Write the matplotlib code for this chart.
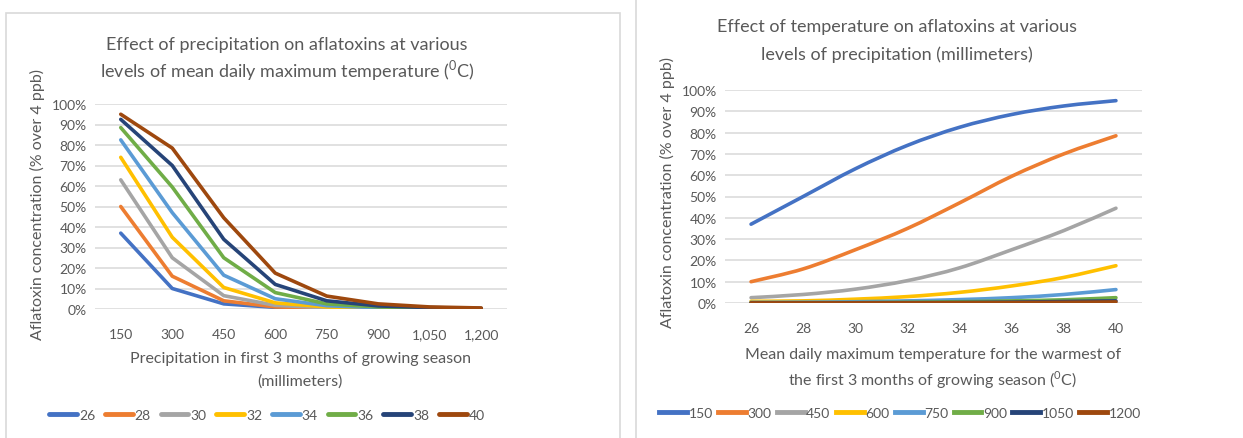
import matplotlib
matplotlib.use("Agg")
import matplotlib.pyplot as plt
from matplotlib.path import Path
from matplotlib.patches import PathPatch, Rectangle
from matplotlib.lines import Line2D
import numpy as np

plt.rcParams['font.family'] = ['Lato', 'DejaVu Sans']
plt.rcParams['mathtext.fontset'] = 'custom'
plt.rcParams['mathtext.rm'] = 'Lato'

# data (% over 4 ppb), one row per temperature, one column per precipitation
temps = [26, 28, 30, 32, 34, 36, 38, 40]
precips = [150, 300, 450, 600, 750, 900, 1050, 1200]
precip_labels = ["150", "300", "450", "600", "750", "900", "1,050", "1,200"]
t26 = [37, 10, 2.5, 0.8, 0.3, 0.1, 0.05, 0.02]
t28 = [50, 16, 4, 1.0, 0.4, 0.15, 0.05, 0.03]
t30 = [63, 25, 6.5, 1.8, 0.6, 0.2, 0.1, 0.05]
t32 = [74, 35, 10.5, 3.0, 1.0, 0.35, 0.15, 0.07]
t34 = [82.5, 47, 16.5, 5.0, 1.6, 0.6, 0.25, 0.1]
t36 = [88.5, 59.5, 25, 8.0, 2.5, 1.0, 0.4, 0.2]
t38 = [92.5, 70, 34, 12, 4.0, 1.5, 0.7, 0.3]
t40 = [95, 78.5, 44.5, 17.5, 6.3, 2.5, 1.0, 0.5]

colors = ['#4472C4', '#ED7D31', '#A5A5A5', '#FFC000',
          '#5B9BD5', '#70AD47', '#264478', '#9E480E']
textcol = '#595959'
gridcol = '#D9D9D9'
W, H = 1243, 439


def px_axes(fig, x0, y0, x1, y1):
    # pixel box (top-left origin) -> axes
    return fig.add_axes([x0 / W, (H - y1) / H, (x1 - x0) / W, (y1 - y0) / H])


def px_lines(fig, x, ys, lines, size):
    # one text per line so the spacing matches the excel layout
    for y, s in zip(ys, lines):
        fig.text(x / W, 1 - y / H, s, ha='center', va='center',
                 fontsize=size, color=textcol)


def smooth_path(x, y):
    # excel style smoothed line: catmull-rom as bezier segments
    pts = np.column_stack([x, y]).astype(float)
    verts = [pts[0]]
    codes = [Path.MOVETO]
    n = len(pts)
    for i in range(n - 1):
        p0 = pts[i - 1] if i > 0 else pts[i]
        p1 = pts[i]
        p2 = pts[i + 1]
        p3 = pts[i + 2] if i + 2 < n else pts[i + 1]
        c1 = p1 + (p2 - p0) / 6.0
        c2 = p2 - (p3 - p1) / 6.0
        verts += [c1, c2, p2]
        codes += [Path.CURVE4] * 3
    return Path(verts, codes)


def style_axes(ax, labels):
    ax.set_xlim(-0.5, 7.5)
    ax.set_ylim(0, 1.0)
    ax.set_yticks(np.arange(0, 1.01, 0.1))
    ax.set_yticklabels(["%d%%" % round(v * 100) for v in np.arange(0, 1.01, 0.1)])
    ax.set_xticks(range(8))
    ax.set_xticklabels(labels)
    for s in ax.spines.values():
        s.set_visible(False)
    ax.tick_params(length=0, colors=textcol, labelsize=10)
    ax.tick_params(axis='x', pad=14)
    ax.tick_params(axis='y', pad=6)
    ax.grid(axis='y', color=gridcol, linewidth=1.1)
    ax.set_axisbelow(True)


def main():
    fig = plt.figure(figsize=(W / 100, H / 100), dpi=100)
    rows = [t26, t28, t30, t32, t34, t36, t38, t40]
    data = np.array(rows) / 100.0

    # panel borders
    fig.patches.append(Rectangle((6 / W, -0.1), 614 / W, (H - 13.5) / H + 0.1,
                                 transform=fig.transFigure, fill=False,
                                 edgecolor=gridcol, linewidth=1.2))
    fig.add_artist(Line2D([635.5 / W, 635.5 / W], [0, 1], transform=fig.transFigure,
                          color=gridcol, linewidth=1.2))

    # left chart: precipitation on x, one line per temperature
    ax1 = px_axes(fig, 95, 105, 507, 310)
    style_axes(ax1, precip_labels)
    for i in range(len(temps)):
        ax1.plot(range(8), data[i], color=colors[i], linewidth=2.6,
                 solid_capstyle='round', label=str(temps[i]))
    px_lines(fig, 287, [45, 71],
             ["Effect of precipitation on aflatoxins at various",
              "levels of mean daily maximum temperature ($^{0}$C)"], 13)
    fig.text(37 / W, 1 - 205 / H, "Aflatoxin concentration (% over 4 ppb)",
             rotation=90, ha='center', va='center', fontsize=11.5, color=textcol)
    px_lines(fig, 300, [359, 382],
             ["Precipitation in first 3 months of growing season",
              "(millimeters)"], 11.5)
    leg1 = fig.legend(handles=ax1.get_lines(), loc='center', ncol=8,
                      bbox_to_anchor=(267 / W, 1 - 416 / H), frameon=False,
                      fontsize=10, handlelength=2.0, handletextpad=0.15,
                      columnspacing=0.7, labelcolor=textcol)
    for h in leg1.legend_handles:
        h.set_linewidth(3.5)

    # right chart: temperature on x, one smoothed line per precipitation
    ax2 = px_axes(fig, 725, 91, 1142, 304)
    style_axes(ax2, [str(t) for t in temps])
    handles = []
    for j in range(len(precips)):
        patch = PathPatch(smooth_path(range(8), data[:, j]), facecolor='none',
                          edgecolor=colors[j], linewidth=2.6, capstyle='round')
        ax2.add_patch(patch)
        handles.append(Line2D([], [], color=colors[j], linewidth=3.5,
                              label=str(precips[j])))
    px_lines(fig, 897, [27, 55],
             ["Effect of temperature on aflatoxins at various",
              "levels of precipitation (millimeters)"], 13)
    fig.text(667 / W, 1 - 193 / H, "Aflatoxin concentration (% over 4 ppb)",
             rotation=90, ha='center', va='center', fontsize=11.5, color=textcol)
    px_lines(fig, 933, [355, 380],
             ["Mean daily maximum temperature for the warmest of",
              "the first 3 months of growing season ($^{0}$C)"], 11.5)
    fig.legend(handles=handles, loc='center', ncol=8,
               bbox_to_anchor=(900 / W, 1 - 414 / H), frameon=False,
               fontsize=10, handlelength=2.0, handletextpad=0.1,
               columnspacing=0.4, labelcolor=textcol)

    fig.savefig("out.png", dpi=100)


if __name__ == "__main__":
    main()
